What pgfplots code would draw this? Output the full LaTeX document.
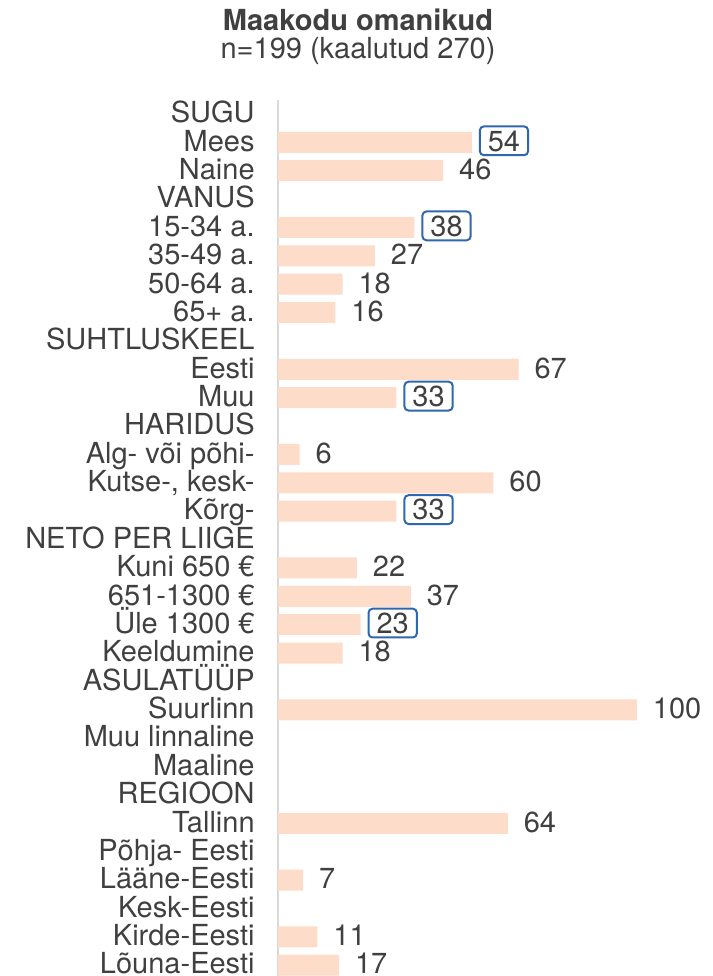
\documentclass[border=0pt]{standalone}
\usepackage{pgfplots}
\usepackage{pgfplotstable}
\pgfplotsset{compat=1.18}
\usepackage{fontspec}
\setmainfont{TeX Gyre Heros}
\definecolor{barcol}{HTML}{FDDCC9}
\definecolor{boxblue}{HTML}{2E67AE}
\definecolor{txt}{HTML}{404040}
\definecolor{axgray}{HTML}{D9D9D9}

\pgfplotstableread{
y v
1 54
2 46
4 38
5 27
6 18
7 16
9 67
10 33
12 6
13 60
14 33
16 22
17 37
18 23
19 18
21 100
25 64
27 7
29 11
30 17
}\allbars

\pgfplotstableread{
y v
2 46
5 27
6 18
7 16
9 67
12 6
13 60
16 22
17 37
19 18
21 100
25 64
27 7
29 11
30 17
}\plainlabels

\pgfplotstableread{
y v
1 54
4 38
10 33
14 33
18 23
}\boxedlabels

\begin{document}
\begin{tikzpicture}
\begin{axis}[
  at={(139pt,-49.9pt)}, anchor=north west,
  scale only axis, width=179.5pt, height=439.75pt,
  xmin=0, xmax=100, ymin=-0.5, ymax=30.5, y dir=reverse,
  axis x line=none, axis y line*=left,
  y axis line style={draw=axgray, line width=1pt},
  major tick length=0pt,
  ytick={0,...,30},
  yticklabels={SUGU,Mees,Naine,VANUS,15-34 a.,35-49 a.,50-64 a.,65+ a.,SUHTLUSKEEL,Eesti,Muu,HARIDUS,Alg- või põhi-,{Kutse-, kesk-},Kõrg-,NETO PER LIIGE,Kuni 650 €,651-1300 €,Üle 1300 €,Keeldumine,ASULATÜÜP,Suurlinn,Muu linnaline,Maaline,REGIOON,Tallinn,Põhja- Eesti,Lääne-Eesti,Kesk-Eesti,Kirde-Eesti,Lõuna-Eesti},
  yticklabel style={anchor=east, inner sep=0pt, xshift=-11.5pt, yshift=0.8pt,
    text height=10.4pt, text depth=0pt, text=txt, font=\fontsize{14.5}{14.5}\selectfont},
  clip=false,
  /pgf/number format/assume math mode=true,
]
\addplot[xbar, bar width=0.74, fill=barcol, draw=none] table[x=v, y=y] {\allbars};
\addplot[draw=none, nodes near coords, point meta=x,
  every node near coord/.style={anchor=west, outer sep=0pt, inner xsep=4pt, inner ysep=2pt,
    text height=10.4pt, text depth=0pt, xshift=4pt, yshift=0.8pt, text=txt,
    font=\fontsize{14.5}{14.5}\selectfont}] table[x=v, y=y] {\plainlabels};
\addplot[draw=none, nodes near coords, point meta=x,
  every node near coord/.style={anchor=west, outer sep=0pt, inner xsep=4pt, inner ysep=2pt,
    text height=10.4pt, text depth=0pt, xshift=4pt, yshift=0.8pt, text=txt,
    draw=boxblue, line width=1pt, rounded corners=2pt,
    font=\fontsize{14.5}{14.5}\selectfont}] table[x=v, y=y] {\boxedlabels};
\end{axis}
\node[anchor=base, text=txt, font=\bfseries\fontsize{14.5}{14.5}\selectfont] at (179pt,-15pt) {Maakodu omanikud};
\node[anchor=base, text=txt, font=\fontsize{14.5}{14.5}\selectfont] at (179pt,-29pt) {n=199 (kaalutud 270)};
\pgfresetboundingbox
\path (0,0) rectangle (356.5pt,-488pt);
\end{tikzpicture}
\end{document}
